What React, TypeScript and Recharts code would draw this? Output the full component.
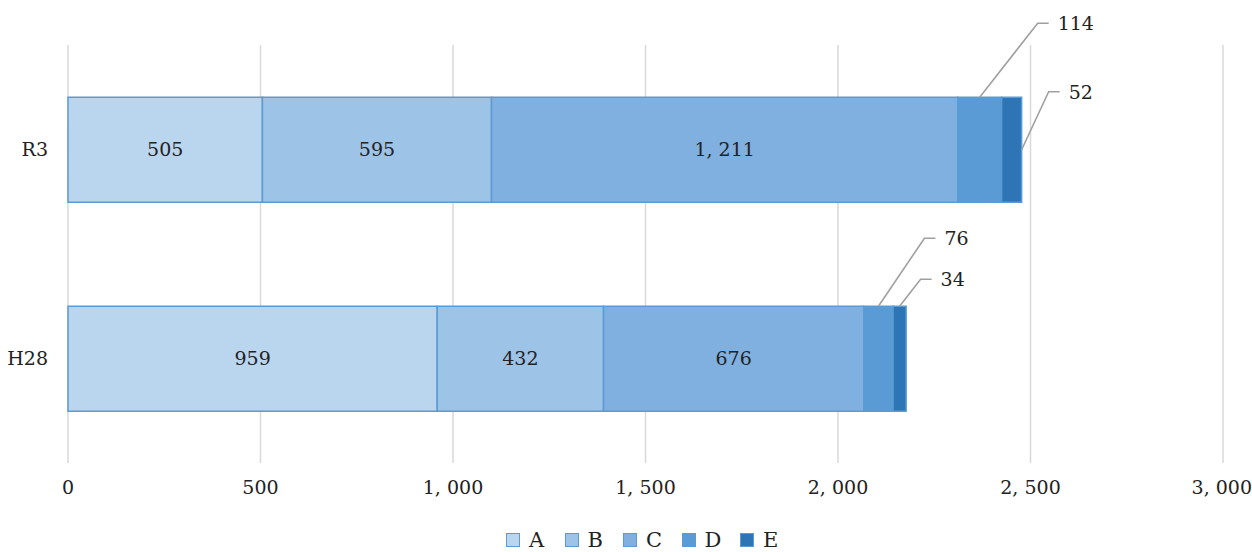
import { BarChart, Bar, XAxis, YAxis, CartesianGrid, LabelList, Legend } from "recharts";

const categories = ["R3", "H28"];
const seriesNames = ["A", "B", "C", "D", "E"];
const seriesA = [505, 959];
const seriesB = [595, 432];
const seriesC = [1211, 676];
const seriesD = [114, 76];
const seriesE = [52, 34];
const xTicks = [0, 500, 1000, 1500, 2000, 2500, 3000];

const colors = ["#bad5ee", "#9dc3e6", "#7fb0df", "#5a9ad5", "#2e75b6"];
const edge = "#5b9bd5";
const FONT = "DejaVu Serif";
const FS = 19;

const data = categories.map((name, i) => ({
  name,
  A: seriesA[i],
  B: seriesB[i],
  C: seriesC[i],
  D: seriesD[i],
  E: seriesE[i],
}));

// leader line geometry for the small segments (anchor, dx, dy), per category row
const leaderD = [
  { anchor: "top", dx: 58, dy: 74 },
  { anchor: "top", dx: 46, dy: 68 },
];
const leaderE = [
  { anchor: "right", dx: 27, dy: 58 },
  { anchor: "top", dx: 21, dy: 27 },
];

const fmt = (v: number) => v.toLocaleString("en-US").replace(/,/g, ", ");

function makeLeader(geo: { anchor: string; dx: number; dy: number }[]) {
  return (props: any) => {
    const { x, y, width, height, value, index } = props;
    const g = geo[index];
    if (!g) return null;
    const sx = g.anchor === "right" ? x + width : x + width / 2;
    const sy = g.anchor === "right" ? y + height / 2 : y;
    const ex = sx + g.dx;
    const ey = sy - g.dy;
    return (
      <g>
        <polyline
          points={`${sx},${sy} ${ex},${ey} ${ex + 11},${ey}`}
          fill="none"
          stroke="#a0a0a0"
          strokeWidth={1.6}
        />
        <text x={ex + 20} y={ey + 2} fontSize={FS} fontFamily={FONT} fill="#222" dominantBaseline="middle">
          {fmt(value)}
        </text>
      </g>
    );
  };
}

function renderLegend() {
  return (
    <div style={{ display: "flex", fontFamily: FONT, fontSize: 21, color: "#222" }}>
      {seriesNames.map((n, i) => (
        <div key={n} style={{ display: "flex", alignItems: "center", width: 58.5 }}>
          <span
            style={{
              display: "inline-block",
              width: 12,
              height: 12,
              background: colors[i],
              border: `1.5px solid ${edge}`,
              marginRight: 9,
            }}
          />
          <span>{n}</span>
        </div>
      ))}
    </div>
  );
}

export default function App() {
  const keys = ["A", "B", "C", "D", "E"];
  return (
    <div style={{ position: "absolute", left: 0, top: 0, background: "#fff" }}>
      <BarChart
        width={1252}
        height={552}
        data={data}
        layout="vertical"
        margin={{ top: 45, right: 29, left: 0, bottom: 0 }}
        barCategoryGap="25%"
      >
        <CartesianGrid horizontal={false} vertical={true} stroke="#d9d9d9" strokeWidth={1.5} />
        <XAxis
          type="number"
          domain={[0, 3000]}
          ticks={xTicks}
          axisLine={false}
          tickLine={false}
          tickMargin={12}
          height={89}
          tickFormatter={fmt}
          tick={{ fontSize: FS, fontFamily: FONT, fill: "#222" }}
        />
        <YAxis
          type="category"
          dataKey="name"
          width={68}
          axisLine={false}
          tickLine={false}
          tickMargin={14}
          tick={{ fontSize: FS, fontFamily: FONT, fill: "#222" }}
        />
        <Legend
          layout="horizontal"
          verticalAlign="middle"
          align="center"
          wrapperStyle={{ top: 528, left: 506, width: 320 }}
          content={renderLegend}
        />
        {keys.map((k, i) => (
          <Bar
            key={k}
            dataKey={k}
            stackId="s"
            fill={colors[i]}
            stroke={edge}
            strokeWidth={1.5}
            isAnimationActive={false}
          >
            {i < 3 && (
              <LabelList
                dataKey={k}
                position="center"
                formatter={(v: any) => fmt(Number(v))}
                style={{ fontSize: FS, fontFamily: FONT, fill: "#222" }}
              />
            )}
            {i === 3 && <LabelList dataKey={k} content={makeLeader(leaderD)} />}
            {i === 4 && <LabelList dataKey={k} content={makeLeader(leaderE)} />}
          </Bar>
        ))}
      </BarChart>
    </div>
  );
}
